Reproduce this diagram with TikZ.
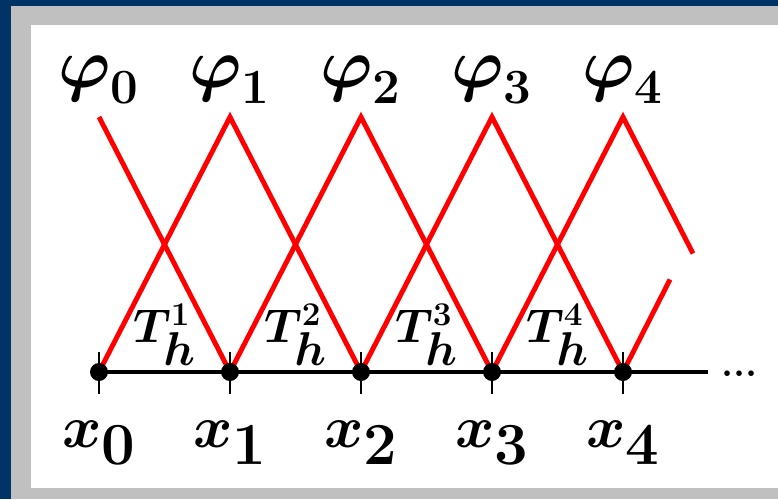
\RequirePackage{fix-cm}
\documentclass[tikz,border=0pt]{standalone}
\usepackage{amsmath}
\usepackage{tikz}
\usetikzlibrary{positioning}
\definecolor{frameblue}{RGB}{0, 51, 102}
\definecolor{framegray}{RGB}{192, 192, 192}

\begin{document}
\begin{tikzpicture}[
  dot/.style={circle, fill=black, inner sep=0pt, minimum size=0.36cm},
  tick/.style={line width=1.5pt},
  axis/.style={line width=2.4pt},
  hat/.style={red, line width=2.8pt},
  philabel/.style={inner sep=0pt, font=\boldmath\fontsize{40}{46}\selectfont},
  xlabel/.style={inner sep=0pt, font=\boldmath\fontsize{34}{40}\selectfont},
  elabel/.style={inner sep=0pt, font=\boldmath\fontsize{27}{32}\selectfont}
]
  % Frame
  \fill[frameblue] (-1.98,-2.54) rectangle (13.58,7.44);
  \fill[framegray] (-1.76,-2.54) rectangle (13.58,7.32);
  \fill[white] (-1.36,-2.32) rectangle (13.58,6.94);
  \useasboundingbox (-1.98,-2.54) rectangle (13.58,7.44);

  % Grid points and peaks
  \coordinate (x0) at (0,0);
  \coordinate (x1) at (2.62,0);
  \coordinate (x2) at (5.24,0);
  \coordinate (x3) at (7.86,0);
  \coordinate (x4) at (10.48,0);
  \coordinate (p0) at (0,5.1);
  \coordinate (p1) at (2.62,5.1);
  \coordinate (p2) at (5.24,5.1);
  \coordinate (p3) at (7.86,5.1);
  \coordinate (p4) at (10.48,5.1);
  \coordinate (e4) at (11.88,2.37);
  \coordinate (e5) at (11.42,1.85);
  \coordinate (aend) at (12.18,0);

  % Hat functions
  \draw[hat] (p0) -- (x1);
  \draw[hat] (x0) -- (p1) -- (x2);
  \draw[hat] (x1) -- (p2) -- (x3);
  \draw[hat] (x2) -- (p3) -- (x4);
  \draw[hat] (x3) -- (p4) -- (e4);
  \draw[hat] (x4) -- (e5);

  % Axis
  \draw[axis] (x0) -- (aend);
  \draw[tick] ([yshift=0.4cm]x0) -- ([yshift=-0.44cm]x0);
  \draw[tick] ([yshift=0.4cm]x1) -- ([yshift=-0.44cm]x1);
  \draw[tick] ([yshift=0.4cm]x2) -- ([yshift=-0.44cm]x2);
  \draw[tick] ([yshift=0.4cm]x3) -- ([yshift=-0.44cm]x3);
  \draw[tick] ([yshift=0.4cm]x4) -- ([yshift=-0.44cm]x4);
  \node[dot] (d0) at (x0) {};
  \node[dot] (d1) at (x1) {};
  \node[dot] (d2) at (x2) {};
  \node[dot] (d3) at (x3) {};
  \node[dot] (d4) at (x4) {};
  \node[inner sep=0pt, anchor=base west, font=\bfseries\fontsize{22}{26}\selectfont] (more) at (12.44,-0.08) {...};

  % Labels
  \node[philabel] (phi0) at (0,5.84) {$\boldsymbol{\varphi}_{0}$};
  \node[philabel] (phi1) at (2.62,5.84) {$\boldsymbol{\varphi}_{1}$};
  \node[philabel] (phi2) at (5.24,5.84) {$\boldsymbol{\varphi}_{2}$};
  \node[philabel] (phi3) at (7.86,5.84) {$\boldsymbol{\varphi}_{3}$};
  \node[philabel] (phi4) at (10.48,5.84) {$\boldsymbol{\varphi}_{4}$};

  \node[xlabel] (lx0) at (0,-1.42) {$x_{\textstyle 0}$};
  \node[xlabel] (lx1) at (2.62,-1.42) {$x_{\textstyle 1}$};
  \node[xlabel] (lx2) at (5.24,-1.42) {$x_{\textstyle 2}$};
  \node[xlabel] (lx3) at (7.86,-1.42) {$x_{\textstyle 3}$};
  \node[xlabel] (lx4) at (10.48,-1.42) {$x_{\textstyle 4}$};

  \node[elabel] (t1) at (1.31,0.68) {$T^{\raisebox{-0.5ex}{$\scriptstyle 1$}}_{\raisebox{0.3ex}{$\textstyle h$}}$};
  \node[elabel] (t2) at (3.93,0.68) {$T^{\raisebox{-0.5ex}{$\scriptstyle 2$}}_{\raisebox{0.3ex}{$\textstyle h$}}$};
  \node[elabel] (t3) at (6.55,0.68) {$T^{\raisebox{-0.5ex}{$\scriptstyle 3$}}_{\raisebox{0.3ex}{$\textstyle h$}}$};
  \node[elabel] (t4) at (9.17,0.68) {$T^{\raisebox{-0.5ex}{$\scriptstyle 4$}}_{\raisebox{0.3ex}{$\textstyle h$}}$};
\end{tikzpicture}
\end{document}
